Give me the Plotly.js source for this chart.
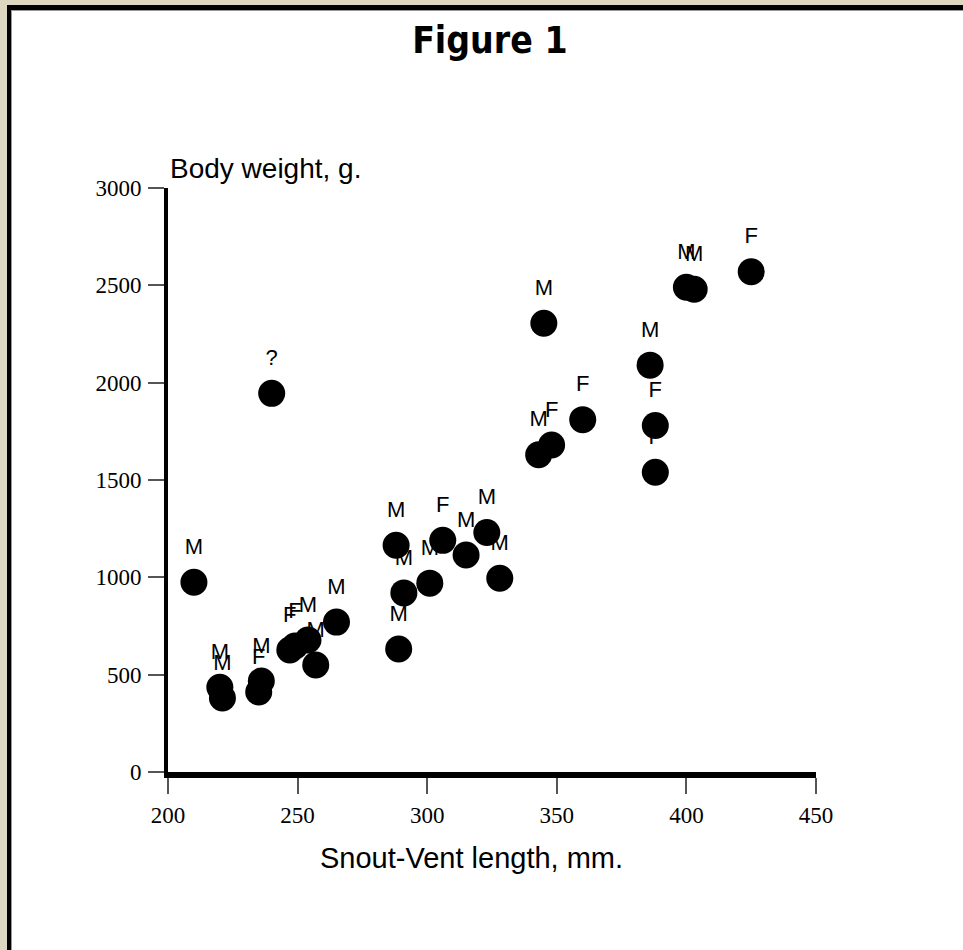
<!DOCTYPE html>
<html><head><meta charset="utf-8">
<script src="https://cdn.plot.ly/plotly-3.0.1.min.js"></script>
<style>
html,body{margin:0;padding:0;background:#ddd6c0;width:963px;height:950px;overflow:hidden}
#frame{position:absolute;left:7px;top:5px;width:952px;height:940px;border-left:4px solid #000;border-top:5px solid #000;background:#fff;box-shadow:inset 1px 1px 0 #999}
#chart{width:952px;height:940px}
</style></head><body>
<div id="frame"><div id="chart"></div></div>
<script>
// Snout-vent length (mm) and body weight (g), with sex label
const snoutVentLength = [210, 220, 221, 235, 236, 240, 247, 249, 254, 257, 265, 288, 289, 291, 301, 306, 315, 323, 328, 343, 345, 348, 360, 386, 388, 388, 400, 403, 425];
const bodyWeight      = [975, 435, 380, 411, 467, 1945, 627, 647, 678, 550, 770, 1165, 632, 920, 970, 1190, 1115, 1230, 995, 1630, 2305, 1680, 1810, 2090, 1780, 1540, 2490, 2480, 2570];
const sexLabels       = ['M','M','M','F','M','?','F','F','M','M','M','M','M','M','M','F','M','M','M','M','M','F','F','M','F','F','M','M','F'];
const xTickValues = [200, 250, 300, 350, 400, 450];
const yTickValues = [0, 500, 1000, 1500, 2000, 2500, 3000];

const labelTrace = {
  x: snoutVentLength, y: bodyWeight, text: sexLabels,
  type: 'scatter', mode: 'markers+text', textposition: 'top center',
  textfont: {family: 'Liberation Sans, Arial, sans-serif', size: 22, color: '#000'},
  marker: {size: 35, color: 'rgba(0,0,0,0)'},
  hoverinfo: 'skip', showlegend: false, cliponaxis: false
};
const pointTrace = {
  x: snoutVentLength, y: bodyWeight,
  type: 'scatter', mode: 'markers',
  marker: {size: 27, color: '#000'},
  showlegend: false, cliponaxis: false
};

const tickFont = {family: 'Liberation Serif, Times New Roman, serif', size: 23, color: '#000'};
const layout = {
  width: 952, height: 940,
  margin: {l: 157, r: 147, t: 178, b: 178},
  paper_bgcolor: 'rgba(0,0,0,0)', plot_bgcolor: 'rgba(0,0,0,0)',
  title: {text: 'Figure 1', font: {family: 'DejaVu Sans Condensed, DejaVu Sans, sans-serif', size: 37, weight: 700, color: '#000'},
          x: 0.503, xref: 'container', xanchor: 'center', y: 0.968, yref: 'container', yanchor: 'middle'},
  xaxis: {range: [200, 450], tickvals: xTickValues, ticktext: xTickValues.map(String),
          showgrid: false, zeroline: false, showline: true, linewidth: 6, linecolor: '#000',
          ticks: 'outside', ticklen: 16, tickwidth: 2, tickcolor: '#555', tickfont: tickFont, ticklabelstandoff: 1},
  yaxis: {range: [0, 3000], tickvals: yTickValues, ticktext: yTickValues.map(String),
          showgrid: false, zeroline: false, showline: true, linewidth: 4, linecolor: '#000',
          ticks: 'outside', ticklen: 16, tickwidth: 2, tickcolor: '#555', tickfont: tickFont, ticklabelstandoff: 2},
  annotations: [
    {text: 'Body weight, g.', xref: 'paper', yref: 'paper', x: 0, y: 1.034, xanchor: 'left', yanchor: 'middle',
     showarrow: false, font: {family: 'Liberation Sans, Arial, sans-serif', size: 28, color: '#000'}},
    {text: 'Snout-Vent length, mm.', xref: 'paper', yref: 'paper', x: 0.469, y: -0.147, xanchor: 'center', yanchor: 'middle',
     showarrow: false, font: {family: 'Liberation Sans, Arial, sans-serif', size: 29, color: '#000'}}
  ]
};
Plotly.newPlot('chart', [labelTrace, pointTrace], layout, {displayModeBar: false, staticPlot: true});
</script>
</body></html>
